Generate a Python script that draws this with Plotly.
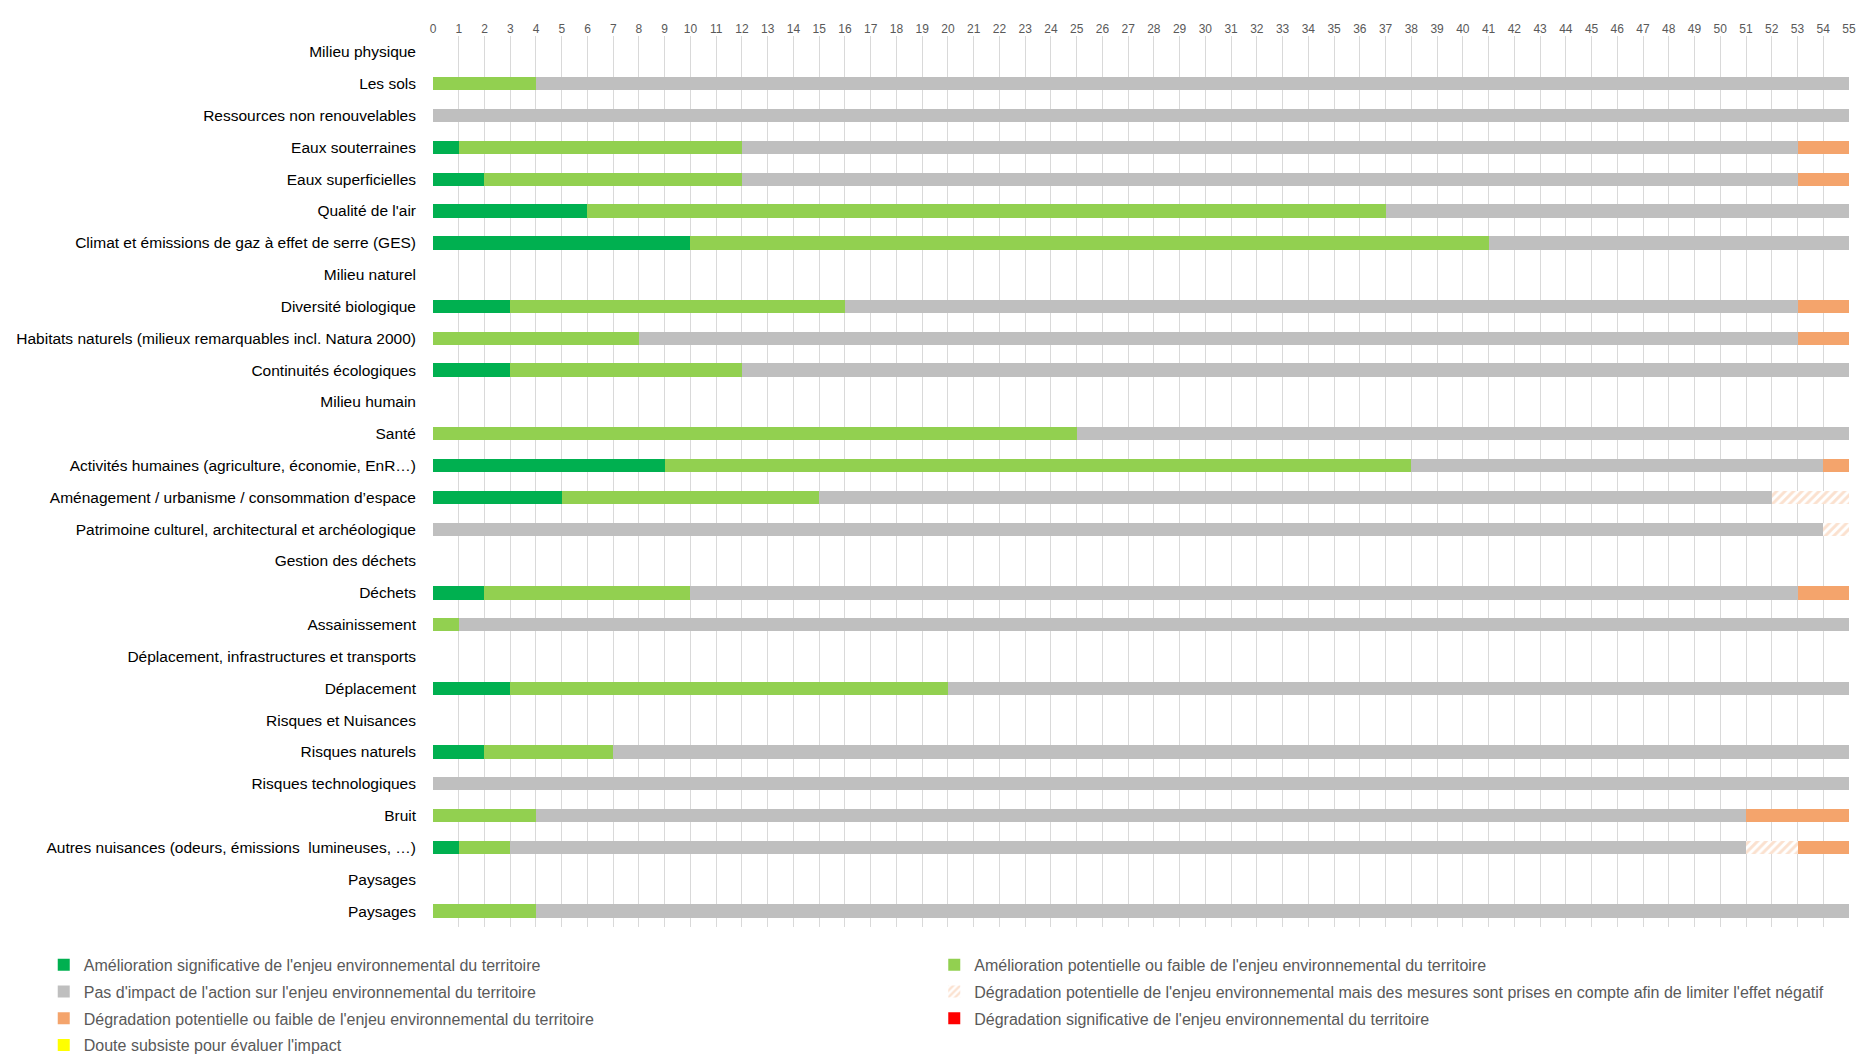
import plotly.graph_objects as go

categories = [
    "Milieu physique", "Les sols", "Ressources non renouvelables", "Eaux souterraines",
    "Eaux superficielles", "Qualité de l'air", "Climat et émissions de gaz à effet de serre (GES)",
    "Milieu naturel", "Diversité biologique", "Habitats naturels (milieux remarquables incl. Natura 2000)",
    "Continuités écologiques", "Milieu humain", "Santé", "Activités humaines (agriculture, économie, EnR…)",
    "Aménagement / urbanisme / consommation d’espace", "Patrimoine culturel, architectural et archéologique",
    "Gestion des déchets", "Déchets", "Assainissement", "Déplacement, infrastructures et transports",
    "Déplacement", "Risques et Nuisances", "Risques naturels", "Risques technologiques", "Bruit",
    "Autres nuisances (odeurs, émissions  lumineuses, …)", "Paysages", "Paysages",
]

amelioration_significative = [0, 0, 0, 1, 2, 6, 10, 0, 3, 0, 3, 0, 0, 9, 5, 0, 0, 2, 0, 0, 3, 0, 2, 0, 0, 1, 0, 0]
amelioration_potentielle   = [0, 4, 0, 11, 10, 31, 31, 0, 13, 8, 9, 0, 25, 29, 10, 0, 0, 8, 1, 0, 17, 0, 5, 0, 4, 2, 0, 4]
pas_d_impact               = [0, 51, 55, 41, 41, 18, 14, 0, 37, 45, 43, 0, 30, 16, 37, 54, 0, 43, 54, 0, 35, 0, 48, 55, 47, 48, 0, 51]
degradation_mesures        = [0, 0, 0, 0, 0, 0, 0, 0, 0, 0, 0, 0, 0, 0, 3, 1, 0, 0, 0, 0, 0, 0, 0, 0, 0, 2, 0, 0]
degradation_faible         = [0, 0, 0, 2, 2, 0, 0, 0, 2, 2, 0, 0, 0, 1, 0, 0, 0, 2, 0, 0, 0, 0, 0, 0, 4, 2, 0, 0]
degradation_significative  = [0] * 28
doute                      = [0] * 28

tick_values = list(range(0, 56))

# (name, values, colour, pattern, legend column)
series = [
    ("Amélioration significative de l'enjeu environnemental du territoire", amelioration_significative, "#00B050", None, "legend"),
    ("Amélioration potentielle ou faible de l'enjeu environnemental du territoire", amelioration_potentielle, "#92D050", None, "legend2"),
    ("Pas d'impact de l'action sur l'enjeu environnemental du territoire", pas_d_impact, "#BFBFBF", None, "legend"),
    ("Dégradation potentielle de l'enjeu environnemental mais des mesures sont prises en compte afin de limiter l'effet négatif", degradation_mesures, "#FFFFFF", "/", "legend2"),
    ("Dégradation potentielle ou faible de l'enjeu environnemental du territoire", degradation_faible, "#F4A46C", None, "legend"),
    ("Dégradation significative de l'enjeu environnemental du territoire", degradation_significative, "#FF0000", None, "legend2"),
    ("Doute subsiste pour évaluer l'impact", doute, "#FFFF00", None, "legend"),
]

ypos = list(range(len(categories)))

fig = go.Figure()
for i, (name, vals, color, pattern, leg) in enumerate(series):
    marker = dict(color=color, line=dict(width=0))
    if pattern:
        marker["pattern"] = dict(shape=pattern, fgcolor="#F7C3A0", bgcolor="#FFFFFF", size=6, solidity=0.5)
    fig.add_trace(go.Bar(
        x=vals, y=ypos, orientation="h", name=name, marker=marker,
        legend=leg, legendgroup=f"g{i}",
        hovertemplate="%{x}<extra></extra>",
    ))

legend_common = dict(
    orientation="v", yanchor="top", y=-0.0233, xanchor="left",
    traceorder="grouped", tracegroupgap=3, itemwidth=30,
    font=dict(size=16, color="#595959"), bgcolor="rgba(0,0,0,0)",
)

fig.update_layout(
    barmode="stack",
    bargap=0.58,
    width=1857, height=1055,
    margin=dict(l=433, r=8, t=36, b=128, autoexpand=False),
    paper_bgcolor="white", plot_bgcolor="white",
    font=dict(family="Liberation Sans, Arial, sans-serif", color="#000000"),
    xaxis=dict(
        side="top", range=[0, 55], tickvals=tick_values, ticks="",
        showgrid=True, gridcolor="#D9D9D9", gridwidth=1, zeroline=False,
        tickfont=dict(size=12, color="#595959"), showline=False, automargin=False,
    ),
    yaxis=dict(
        tickvals=ypos, ticktext=categories, range=[27.5, -0.5],
        showgrid=False, zeroline=False, ticks="", ticklabelstandoff=16,
        tickfont=dict(size=15.5, color="#000000"), showline=False, automargin=False,
    ),
    legend=dict(x=-0.2749, **legend_common),
    legend2=dict(x=0.354, **legend_common),
)

fig.write_html("out.html")
